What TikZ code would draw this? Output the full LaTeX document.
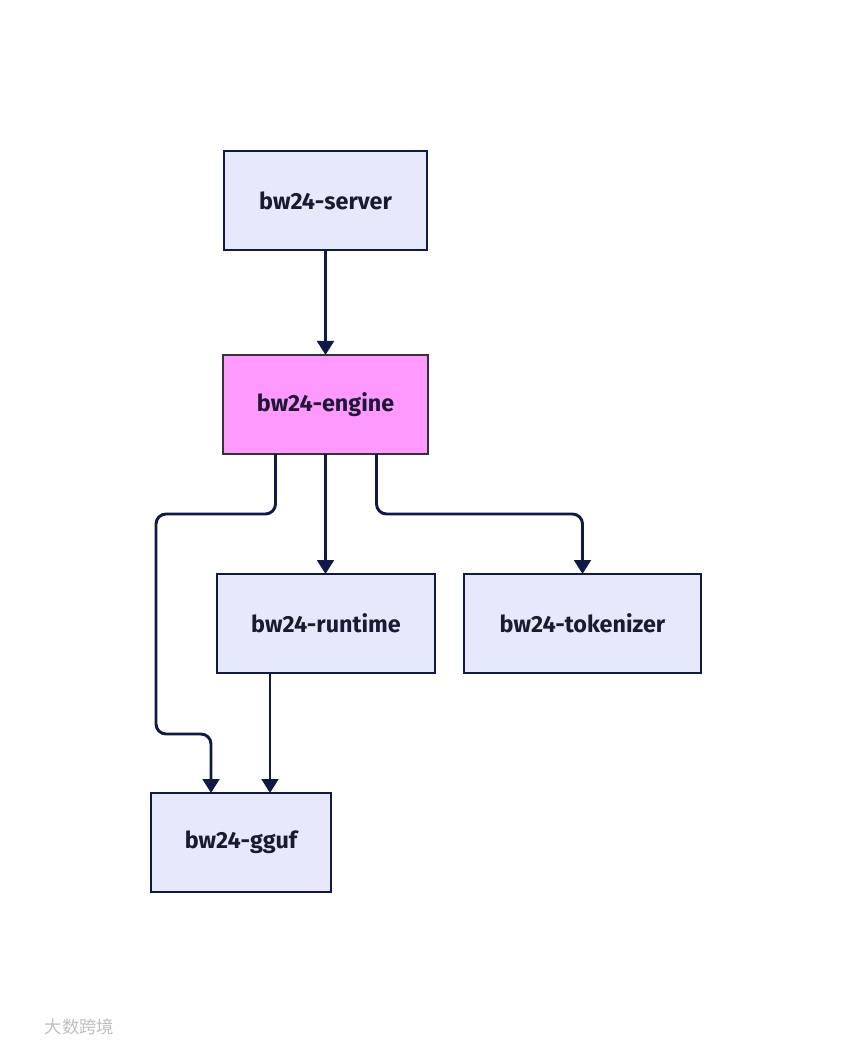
\documentclass[tikz,border=0pt]{standalone}
\usepackage{fontspec}
\setmainfont{Fira Sans}
\newfontfamily\cjk{Noto Sans CJK SC}
\usetikzlibrary{arrows.meta}
\definecolor{boxfill}{HTML}{E6E8FB}
\definecolor{boxline}{HTML}{0F1A48}
\definecolor{enginefill}{HTML}{FF99FF}
\definecolor{engineline}{HTML}{333333}
\definecolor{labeltext}{HTML}{1A1A33}
\begin{document}
\begin{tikzpicture}[x=0.75pt,y=-0.75pt]
	% height of each crate (99 px)
	\def\crateht{74.25pt}
	% node style definition
	\tikzstyle{crate} = [draw=boxline, fill=boxfill, rectangle, line width=1.7pt, minimum height=\crateht, inner sep=0pt, outer sep=0pt, text=labeltext, font=\fontsize{17.5pt}{20pt}\selectfont\bfseries];
	\tikzstyle{main} = [crate, draw=engineline, fill=enginefill];
	\tikzstyle{edge} = [draw=boxline, line width=2.2pt, rounded corners=7.5pt, -{Triangle[length=10.5pt,width=12.5pt]}];
	\useasboundingbox (0,0) rectangle (852,1044);
	% crates
	\node[crate, minimum width=152.25pt] (server) at (325.5,200.5) {bw24-server};
	\node[main, minimum width=153.75pt] (engine) at (325.5,404.5) {bw24-engine};
	\node[crate, minimum width=163.5pt] (runtime) at (326,623.5) {bw24-runtime};
	\node[crate, minimum width=177.75pt] (tokenizer) at (582.5,623.5) {bw24-tokenizer};
	\node[crate, minimum width=135pt] (gguf) at (241,842.5) {bw24-gguf};
	% dependencies
	\draw[edge] (server) -- (engine);
	\draw[edge] (engine) -- (runtime.north -| engine.south);
	\draw[edge] ([xshift=-37.5pt]engine.south) -- ++(0,60) -| (156,734) -| ([xshift=-22.5pt]gguf.north);
	\draw[edge] ([xshift=38.25pt]engine.south) -- ++(0,60) -| (tokenizer.north);
	\draw[edge] ([xshift=-42pt]runtime.south) -- ([xshift=21.75pt]gguf.north);
	% watermark
	\node[text=black!25, font=\cjk\fontsize{13pt}{15pt}\selectfont, anchor=west] (mark) at (40,1027) {大数跨境};
\end{tikzpicture}
\end{document}
